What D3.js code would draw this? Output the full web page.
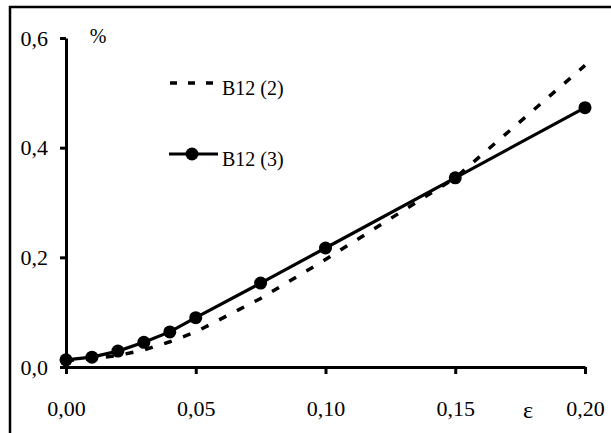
<!DOCTYPE html>
<html>
<head>
<meta charset="utf-8">
<script src="https://cdn.jsdelivr.net/npm/d3@7"></script>
<style>
  html, body { margin: 0; padding: 0; background: #fff; overflow: hidden; }
  svg { display: block; }
  text { font-family: "Liberation Serif", "Times New Roman", Times, serif; fill: #000; }
</style>
</head>
<body>
<svg id="graph"></svg>
<script>
// Data
var strain = [0, 0.01, 0.02, 0.03, 0.04, 0.05, 0.075, 0.10, 0.15, 0.20];
var b12_2 = [0.012, 0.015, 0.021, 0.031, 0.046, 0.064, 0.125, 0.196, 0.345, 0.55];
var b12_3 = [0.013, 0.018, 0.029, 0.045, 0.064, 0.09, 0.153, 0.217, 0.345, 0.473];
var xTicks = [0, 0.05, 0.10, 0.15, 0.20];
var xTickLabels = ["0,00", "0,05", "0,10", "0,15", "0,20"];
var yTicks = [0, 0.2, 0.4, 0.6];
var yTickLabels = ["0,0", "0,2", "0,4", "0,6"];
var seriesNames = ["B12 (2)", "B12 (3)"];

var W = 611, H = 433;
var svg = d3.select("#graph").attr("width", W).attr("height", H);

// Frame: only the top and left edges fall inside the picture
svg.append("path")
  .attr("d", "M10," + H + "V7H" + W)
  .attr("fill", "none").attr("stroke", "#000").attr("stroke-width", 2.5);

var xScale = d3.scaleLinear().domain([0, 0.2]).range([66, 585]);
var yScale = d3.scaleLinear().domain([0, 0.6]).range([367, 38]);

// x axis
var xAxis = svg.append("g")
  .attr("transform", "translate(0,367)")
  .call(d3.axisBottom(xScale)
    .tickValues(xTicks)
    .tickFormat((d, i) => xTickLabels[i])
    .tickSize(7)
    .tickSizeOuter(0)
    .tickPadding(26));
xAxis.attr("font-family", null).attr("font-size", null);
xAxis.select(".domain").attr("stroke-width", 3);
xAxis.selectAll(".tick line").attr("stroke-width", 3);
xAxis.selectAll(".tick text").style("font-size", "22px");

// y axis
var yAxis = svg.append("g")
  .attr("transform", "translate(66,0)")
  .call(d3.axisLeft(yScale)
    .tickValues(yTicks)
    .tickFormat((d, i) => yTickLabels[i])
    .tickSize(6)
    .tickSizeOuter(0)
    .tickPadding(12));
yAxis.attr("font-family", null).attr("font-size", null);
yAxis.select(".domain").attr("stroke-width", 3);
yAxis.selectAll(".tick line").attr("stroke-width", 3);
yAxis.selectAll(".tick text").style("font-size", "22px");

// Axis titles
svg.append("text").attr("x", 98).attr("y", 43)
  .attr("text-anchor", "middle").style("font-size", "20px").text("%");
svg.append("text").attr("x", 528).attr("y", 418)
  .attr("text-anchor", "middle").style("font-size", "24px").text("ε");

var line = d3.line()
  .x((d, i) => xScale(strain[i]))
  .y(d => yScale(d));

// Dashed series
svg.append("path")
  .datum(b12_2)
  .attr("d", line)
  .attr("fill", "none")
  .attr("stroke", "#000")
  .attr("stroke-width", 3.5)
  .attr("stroke-dasharray", "8,12");

// Solid series with markers
svg.append("path")
  .datum(b12_3)
  .attr("d", line)
  .attr("fill", "none")
  .attr("stroke", "#000")
  .attr("stroke-width", 3.2);

svg.selectAll(".dot")
  .data(b12_3)
  .enter().append("circle")
  .attr("class", "dot")
  .attr("cx", (d, i) => xScale(strain[i]))
  .attr("cy", d => yScale(d))
  .attr("r", 6.5)
  .attr("fill", "#000");

// Legend
var legend = svg.append("g");
legend.append("line")
  .attr("x1", 170).attr("x2", 214).attr("y1", 83).attr("y2", 83)
  .attr("stroke", "#000").attr("stroke-width", 3.5)
  .attr("stroke-dasharray", "7,11");
legend.append("text").attr("x", 222).attr("y", 95)
  .style("font-size", "20px").text(seriesNames[0]);

legend.append("line")
  .attr("x1", 169).attr("x2", 218).attr("y1", 154).attr("y2", 154)
  .attr("stroke", "#000").attr("stroke-width", 3.2);
legend.append("circle")
  .attr("cx", 192).attr("cy", 154).attr("r", 6.5).attr("fill", "#000");
legend.append("text").attr("x", 222).attr("y", 166)
  .style("font-size", "20px").text(seriesNames[1]);
</script>
</body>
</html>
